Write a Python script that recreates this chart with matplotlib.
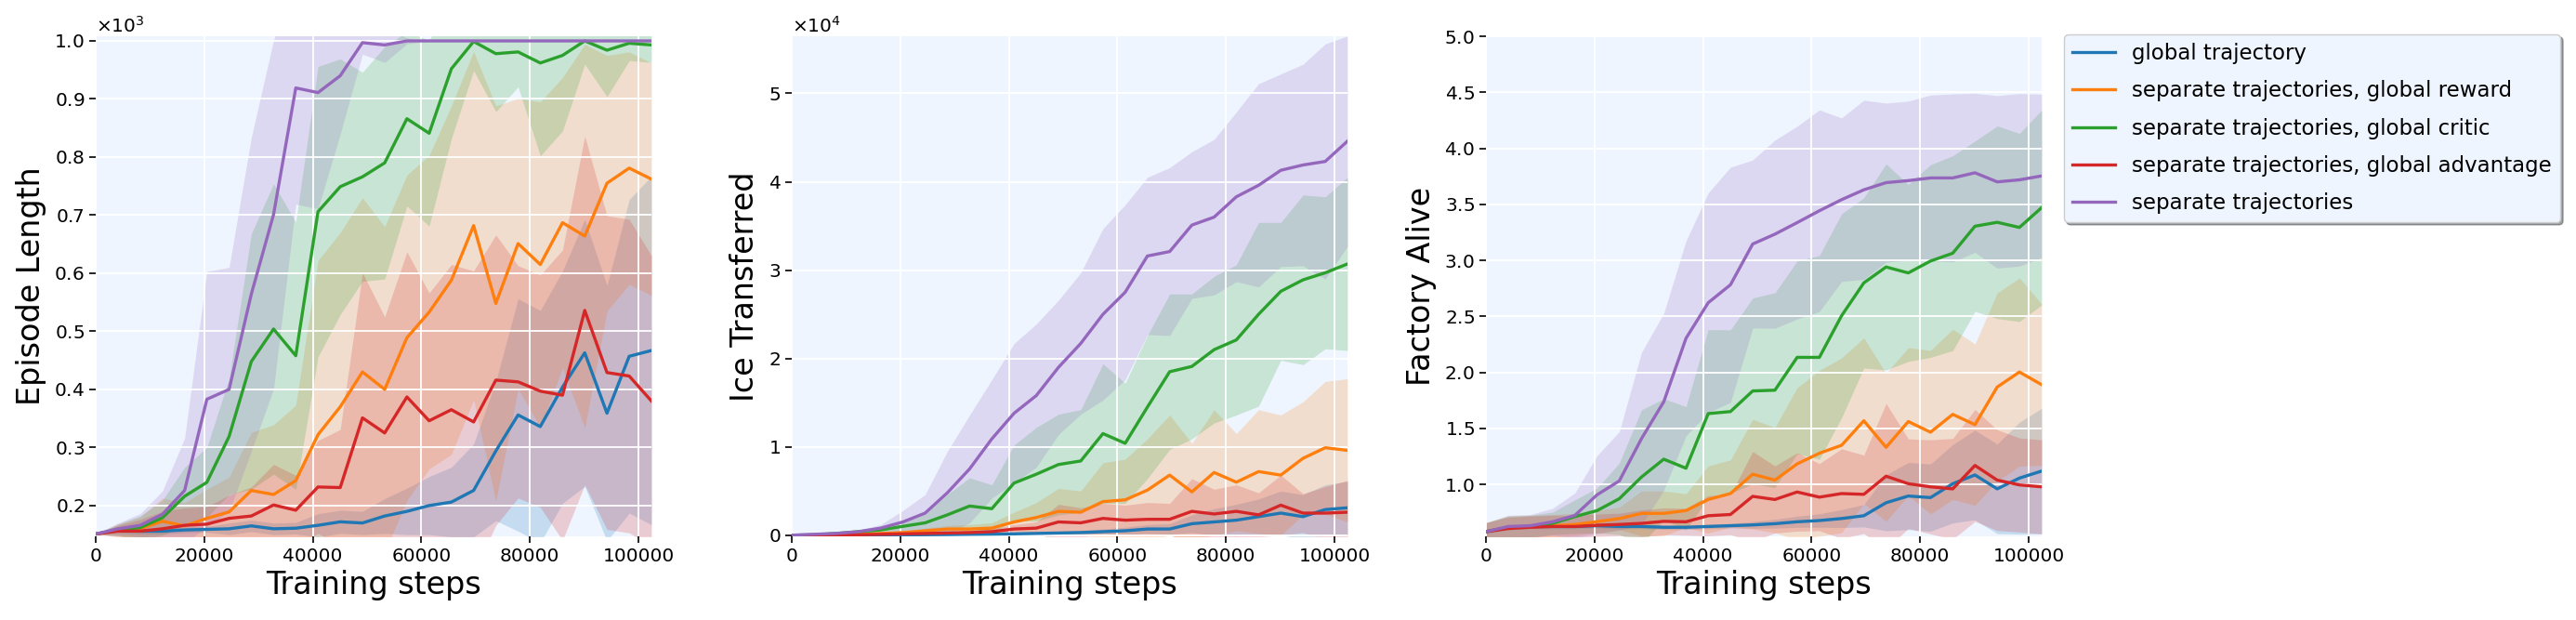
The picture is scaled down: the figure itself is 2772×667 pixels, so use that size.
import numpy as np
import matplotlib
matplotlib.use("Agg")
import matplotlib.pyplot as plt
from matplotlib.ticker import MultipleLocator

# training steps (one point every 4096 steps)
steps = [0, 4096, 8192, 12288, 16384, 20480, 24576, 28672, 32768, 36864,
         40960, 45056, 49152, 53248, 57344, 61440, 65536, 69632, 73728, 77824,
         81920, 86016, 90112, 94208, 98304, 102400]

labels = ["global trajectory",
          "separate trajectories, global reward",
          "separate trajectories, global critic",
          "separate trajectories, global advantage",
          "separate trajectories"]

# Episode length (mean, std)
len_blue = [151, 158, 156, 156, 158, 159, 160, 165, 160, 161, 166, 172, 170, 182, 190, 200, 206, 226, 294, 356, 336, 404, 463, 359, 457, 467]
len_blue_std = [0, 5, 5, 5, 5, 5, 10, 10, 10, 10, 20, 20, 20, 30, 40, 50, 60, 80, 120, 200, 200, 200, 230, 220, 270, 300]
len_orange = [151, 158, 160, 173, 165, 178, 189, 226, 219, 243, 322, 370, 430, 400, 489, 533, 588, 682, 548, 651, 615, 687, 664, 755, 781, 762]
len_orange_std = [0, 10, 20, 40, 40, 50, 60, 100, 120, 130, 300, 300, 300, 280, 280, 270, 300, 300, 340, 250, 280, 250, 330, 220, 200, 200]
len_green = [151, 158, 162, 179, 216, 240, 319, 448, 504, 458, 706, 749, 766, 790, 866, 841, 952, 999, 978, 981, 962, 975, 1000, 984, 996, 993]
len_green_std = [0, 10, 20, 30, 50, 60, 100, 220, 250, 230, 250, 220, 180, 200, 150, 160, 120, 50, 100, 60, 160, 130, 40, 80, 30, 30]
len_red = [151, 156, 156, 160, 166, 168, 178, 182, 201, 192, 232, 231, 351, 325, 387, 346, 365, 344, 416, 413, 397, 390, 536, 429, 423, 380]
len_red_std = [0, 10, 20, 30, 30, 30, 40, 50, 70, 60, 80, 100, 250, 200, 250, 220, 250, 260, 250, 200, 200, 250, 300, 270, 270, 250]
len_purple = [151, 160, 166, 185, 226, 383, 400, 564, 701, 919, 911, 940, 997, 993, 1000, 1000, 1000, 1000, 1000, 1000, 1000, 1000, 1000, 1000, 1000, 1000]
len_purple_std = [0, 10, 20, 40, 90, 220, 210, 270, 300, 200, 200, 100, 20, 30, 5, 0, 0, 0, 0, 0, 0, 0, 0, 0, 0, 0]

# Ice transferred (mean, std)
ice_blue = [0, 0, 0, 0, 20, 40, 50, 70, 100, 120, 150, 200, 250, 300, 400, 500, 700, 700, 1300, 1500, 1700, 2100, 2500, 2100, 2900, 3100]
ice_blue_std = [0, 0, 0, 0, 10, 20, 30, 40, 50, 60, 100, 150, 200, 250, 300, 400, 500, 600, 1000, 1500, 1800, 2000, 2500, 2500, 2800, 3000]
ice_orange = [0, 0, 50, 100, 200, 300, 500, 700, 700, 800, 1500, 2000, 2700, 2600, 3800, 4000, 5100, 6800, 4900, 7100, 6000, 7200, 6800, 8700, 9900, 9600]
ice_orange_std = [0, 0, 50, 100, 150, 200, 300, 400, 500, 600, 1100, 1700, 2600, 2400, 4400, 4600, 5800, 6800, 5500, 7100, 5500, 7000, 6800, 6400, 7500, 8100]
ice_green = [0, 50, 200, 400, 600, 1000, 1400, 2300, 3300, 3000, 5900, 6900, 8000, 8400, 11500, 10400, 14500, 18500, 19100, 21000, 22100, 25000, 27600, 28900, 29700, 30700]
ice_green_std = [0, 50, 100, 200, 300, 600, 1000, 2300, 3200, 2700, 4300, 5300, 5700, 5800, 7900, 6800, 8100, 8800, 8200, 8300, 8500, 10400, 7800, 9600, 8600, 9800]
ice_red = [0, 0, 0, 50, 100, 150, 200, 250, 300, 400, 700, 800, 1500, 1400, 1900, 1700, 1800, 1800, 2700, 2400, 2700, 2300, 3400, 2500, 2500, 2600]
ice_red_std = [0, 0, 0, 50, 100, 100, 150, 200, 200, 300, 500, 700, 2000, 1700, 1700, 1700, 1900, 1800, 3700, 2800, 3000, 2500, 3400, 2200, 3000, 3600]
ice_purple = [0, 100, 200, 400, 800, 1500, 2500, 4800, 7500, 10900, 13800, 15800, 19000, 21700, 25000, 27500, 31600, 32100, 35100, 36000, 38300, 39600, 41300, 41900, 42300, 44600]
ice_purple_std = [0, 50, 100, 200, 400, 1300, 2100, 4700, 6100, 6700, 7900, 8100, 7600, 8000, 9700, 9900, 8900, 9500, 8300, 8800, 9600, 11500, 10900, 11400, 13300, 11900]

# Factories alive (mean, std)
fac_blue = [0.579, 0.614, 0.625, 0.625, 0.625, 0.632, 0.625, 0.625, 0.618, 0.618, 0.625, 0.632, 0.639, 0.650, 0.667, 0.678, 0.696, 0.721, 0.837, 0.897, 0.883, 1.007, 1.085, 0.961, 1.057, 1.120]
fac_blue_std = [0.02, 0.02, 0.02, 0.02, 0.02, 0.02, 0.02, 0.02, 0.02, 0.02, 0.02, 0.02, 0.03, 0.04, 0.05, 0.06, 0.08, 0.1, 0.25, 0.3, 0.3, 0.35, 0.4, 0.4, 0.5, 0.56]
fac_orange = [0.579, 0.618, 0.625, 0.632, 0.643, 0.668, 0.696, 0.742, 0.742, 0.767, 0.866, 0.919, 1.092, 1.039, 1.184, 1.279, 1.350, 1.569, 1.332, 1.562, 1.467, 1.626, 1.534, 1.870, 2.004, 1.891]
fac_orange_std = [0.08, 0.1, 0.1, 0.1, 0.1, 0.1, 0.1, 0.2, 0.2, 0.15, 0.3, 0.3, 0.49, 0.47, 0.68, 0.74, 0.78, 0.74, 0.66, 0.66, 0.73, 0.76, 0.72, 0.84, 0.84, 0.72]
fac_green = [0.579, 0.618, 0.625, 0.653, 0.713, 0.767, 0.873, 1.067, 1.226, 1.145, 1.633, 1.651, 1.835, 1.842, 2.135, 2.135, 2.507, 2.800, 2.942, 2.889, 2.995, 3.065, 3.306, 3.341, 3.295, 3.472]
fac_green_std = [0.08, 0.1, 0.1, 0.1, 0.15, 0.2, 0.32, 0.60, 0.54, 0.55, 0.75, 0.73, 0.83, 0.87, 0.86, 0.91, 0.91, 0.76, 0.92, 0.79, 0.86, 0.87, 0.76, 0.86, 0.84, 0.87]
fac_red = [0.579, 0.607, 0.618, 0.625, 0.625, 0.636, 0.643, 0.653, 0.671, 0.667, 0.721, 0.732, 0.894, 0.866, 0.933, 0.887, 0.919, 0.912, 1.074, 1.007, 0.979, 0.961, 1.170, 1.039, 0.996, 0.979]
fac_red_std = [0.08, 0.1, 0.1, 0.1, 0.1, 0.1, 0.1, 0.12, 0.12, 0.12, 0.18, 0.18, 0.4, 0.3, 0.35, 0.3, 0.4, 0.35, 0.65, 0.4, 0.42, 0.45, 0.5, 0.45, 0.42, 0.42]
fac_purple = [0.579, 0.625, 0.632, 0.667, 0.724, 0.908, 1.032, 1.410, 1.739, 2.305, 2.623, 2.783, 3.147, 3.235, 3.338, 3.444, 3.543, 3.631, 3.695, 3.713, 3.737, 3.737, 3.783, 3.702, 3.720, 3.755]
fac_purple_std = [0.08, 0.1, 0.1, 0.12, 0.2, 0.35, 0.44, 0.77, 0.79, 0.87, 0.98, 1.05, 0.75, 0.84, 0.86, 0.90, 0.73, 0.80, 0.71, 0.71, 0.74, 0.75, 0.71, 0.77, 0.77, 0.73]

colors = ["#1f77b4", "#ff7f0e", "#2ca02c", "#d62728", "#9467bd"]
bg = "#eef5ff"

panels = [
    ("Episode Length", [len_blue, len_orange, len_green, len_red, len_purple],
     [len_blue_std, len_orange_std, len_green_std, len_red_std, len_purple_std],
     (147, 1008), 100),
    ("Ice Transferred", [ice_blue, ice_orange, ice_green, ice_red, ice_purple],
     [ice_blue_std, ice_orange_std, ice_green_std, ice_red_std, ice_purple_std],
     (-130, 56470), 10000),
    ("Factory Alive", [fac_blue, fac_orange, fac_green, fac_red, fac_purple],
     [fac_blue_std, fac_orange_std, fac_green_std, fac_red_std, fac_purple_std],
     (0.537, 5.002), 0.5),
]

fig = plt.figure(figsize=(27.72, 6.67), dpi=100)
lefts = [103 / 2772, 852 / 2772, 1599 / 2772]
x = np.array(steps)

for left, (ylabel, means, stds, ylim, step) in zip(lefts, panels):
    ax = fig.add_axes([left, 90 / 667, 598 / 2772, 538 / 667])
    ax.set_facecolor(bg)
    for m, s, c, lab in zip(means, stds, colors, labels):
        m = np.array(m, dtype=float)
        s = np.array(s, dtype=float)
        ax.plot(x, m, color=c, lw=2.4, label=lab)
        ax.fill_between(x, m - s, m + s, color=c, alpha=0.2, lw=0)
    ax.set_xlim(0, 102400)
    ax.set_ylim(*ylim)
    ax.xaxis.set_major_locator(MultipleLocator(20000))
    ax.yaxis.set_major_locator(MultipleLocator(step))
    ax.ticklabel_format(axis="y", style="sci", scilimits=(0, 0), useMathText=True)
    ax.yaxis.get_offset_text().set_fontsize(14.5)
    ax.grid(True, color="white", lw=1.3)
    for sp in ax.spines.values():
        sp.set_visible(False)
    ax.tick_params(labelsize=14.5, length=5, width=1.2)
    ax.set_xlabel("Training steps", fontsize=24)
    ax.set_ylabel(ylabel, fontsize=24, labelpad=6)
    handles, labs = ax.get_legend_handles_labels()

fig.legend(handles, labs, loc="upper left", bbox_to_anchor=(2221 / 2772, 1 - 37 / 667),
           fontsize=16.5, labelspacing=0.75, shadow=True, fancybox=True,
           facecolor=bg, framealpha=1, borderaxespad=0)

fig.savefig("out.png", dpi=100)
